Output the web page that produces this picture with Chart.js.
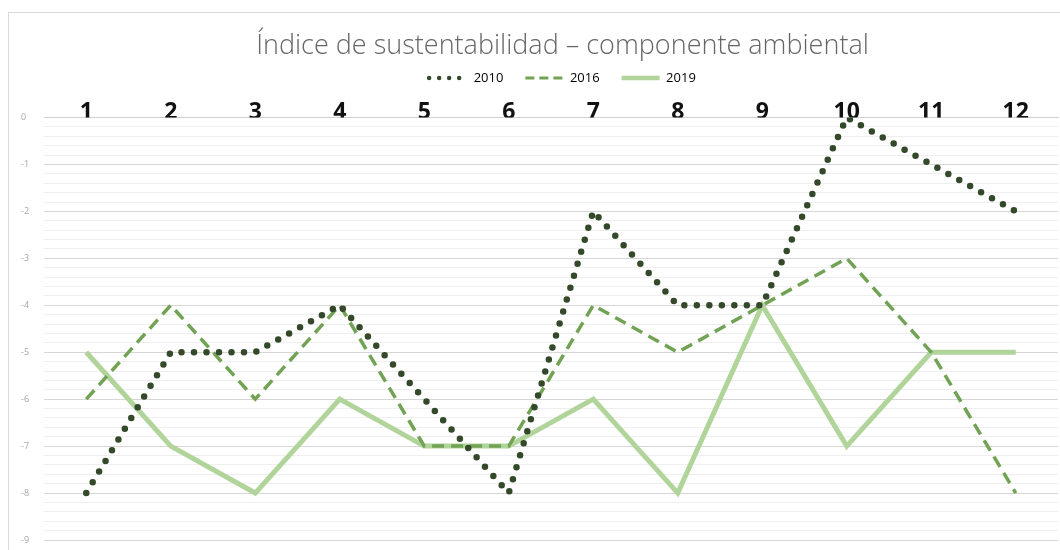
<!DOCTYPE html>
<html>
<head>
<meta charset="utf-8">
<script src="https://cdn.jsdelivr.net/npm/chart.js@4/dist/chart.umd.min.js"></script>
<style>
  html, body { margin: 0; padding: 0; background: #ffffff; }
  #wrap { position: relative; width: 1060px; height: 550px; overflow: hidden; }
  #frame { position: absolute; left: 8px; top: 12px; width: 1070px; height: 560px;
           border: 1px solid #d9d9d9; box-sizing: border-box; }
  canvas { position: absolute; left: 0; top: 0; }
</style>
</head>
<body>
<div id="wrap">
  <div id="frame"></div>
  <canvas id="chart" width="1060" height="550"></canvas>
</div>
<script>
// Months along the top axis
const categories = ['1', '2', '3', '4', '5', '6', '7', '8', '9', '10', '11', '12'];

// Environmental component of the sustainability index, per year
const series2010 = [-8, -5, -5, -4, -6, -8, -2, -4, -4, 0, -1, -2];
const series2016 = [-6, -4, -6, -4, -7, -7, -4, -5, -4, -3, -5, -8];
const series2019 = [-5, -7, -8, -6, -7, -7, -6, -8, -4, -7, -5, -5];

// Vertical axis range and gridline step
const yMax = 0;
const yMin = -9;
const yStep = 0.2;

const isWhole = v => Math.abs(v - Math.round(v)) < 1e-6;

// Line widths and dash patterns used for the legend samples
const legendLineWidths = [4.5, 3, 4.5];
const legendDashes = [[0, 10], [9, 5], []];

// The header (title + legend) is centred over the full chart frame,
// which runs past the right edge of the canvas
const headerShift = {
  id: 'headerShift',
  afterLayout(chart) {
    const dx = 23;
    [chart.titleBlock, chart.legend].forEach(b => {
      if (b) { b.left += dx; b.right += dx; }
    });
  }
};

new Chart(document.getElementById('chart'), {
  type: 'line',
  data: {
    labels: categories,
    datasets: [
      {
        label: '2010',
        data: series2010,
        borderColor: '#34492a',
        backgroundColor: '#34492a',
        borderWidth: 6.5,
        borderDash: [0, 12.5],
        borderCapStyle: 'round',
        borderJoinStyle: 'round',
        pointRadius: 0,
        tension: 0,
        fill: false
      },
      {
        label: '2016',
        data: series2016,
        borderColor: '#72a355',
        backgroundColor: '#72a355',
        borderWidth: 3.5,
        borderDash: [12, 7],
        borderCapStyle: 'butt',
        pointRadius: 0,
        tension: 0,
        fill: false
      },
      {
        label: '2019',
        data: series2019,
        borderColor: '#b0d49a',
        backgroundColor: '#b0d49a',
        borderWidth: 5,
        borderCapStyle: 'butt',
        borderJoinStyle: 'miter',
        pointRadius: 0,
        tension: 0,
        fill: false
      }
    ]
  },
  plugins: [headerShift],
  options: {
    responsive: false,
    animation: false,
    devicePixelRatio: 1,
    layout: { padding: { top: 33, left: 21, right: 2, bottom: 10 } },
    plugins: {
      title: {
        display: true,
        text: 'Índice de sustentabilidad – componente ambiental',
        color: '#666666',
        font: { family: '"Open Sans", sans-serif', size: 27, weight: '300', lineHeight: 1.0 },
        padding: { top: 0, bottom: -10.5 }
      },
      legend: {
        display: true,
        position: 'top',
        labels: {
          usePointStyle: true,
          pointStyle: 'line',
          pointStyleWidth: 38,
          boxHeight: 10,
          padding: 22,
          color: '#9a9a9a',
          font: { family: '"Open Sans", sans-serif', size: 13 },
          generateLabels: chart => chart.data.datasets.map((ds, i) => ({
            text: ds.label,
            datasetIndex: i,
            hidden: false,
            fillStyle: ds.borderColor,
            strokeStyle: ds.borderColor,
            lineWidth: legendLineWidths[i],
            lineDash: legendDashes[i],
            lineCap: ds.borderCapStyle,
            pointStyle: 'line',
            rotation: 0
          }))
        }
      },
      tooltip: { enabled: false }
    },
    scales: {
      x: {
        position: 'top',
        offset: true,
        afterFit: axis => { axis.height = 23; },
        grid: { display: false, drawTicks: false },
        border: { display: true, color: '#cfcfcf', width: 1 },
        ticks: {
          color: '#111111',
          padding: -6,
          font: { family: '"Open Sans", sans-serif', size: 23, weight: 'bold', lineHeight: 1.0 }
        }
      },
      y: {
        min: yMin,
        max: yMax,
        afterFit: axis => { axis.width = 23; },
        border: { display: false },
        grid: {
          drawTicks: false,
          color: ctx => isWhole(ctx.tick.value) ? '#d6d6d6' : '#efefef',
          lineWidth: 1
        },
        ticks: {
          stepSize: yStep,
          autoSkip: false,
          crossAlign: 'far',
          padding: 0,
          color: '#a6a6a6',
          font: { family: '"Open Sans", sans-serif', size: 9 },
          callback: v => isWhole(v) ? String(Math.round(v)) : ''
        }
      }
    }
  }
});
</script>
</body>
</html>
